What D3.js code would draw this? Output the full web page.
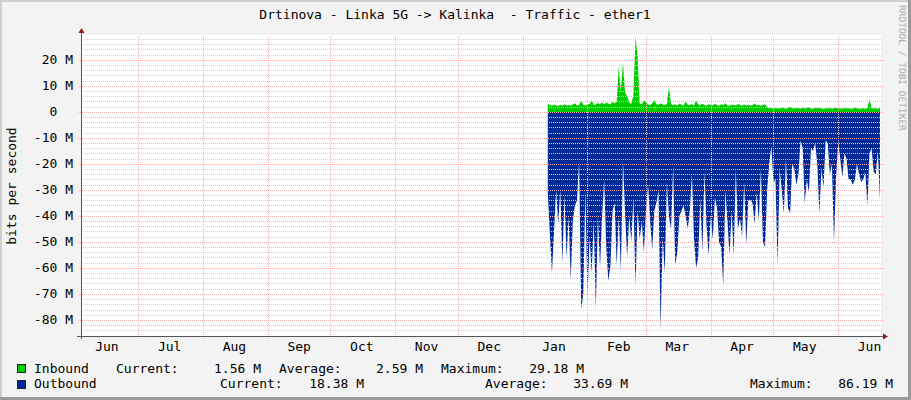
<!DOCTYPE html>
<html><head><meta charset="utf-8">
<script src="https://cdn.jsdelivr.net/npm/d3@7"></script>
<style>
body{margin:0;background:#f3f3f3}
svg{display:block}
text{font-family:"DejaVu Sans Mono",monospace;fill:#000;white-space:pre}
</style>
</head><body><svg id="c" width="911" height="400"></svg>
<script>
// ---------- data ----------
const title = "Drtinova - Linka 5G -> Kalinka  - Traffic - ether1";
const yAxisTitle = "bits per second";
const watermark = "RRDTOOL / TOBI OETIKER";
const seriesNames = ["Inbound", "Outbound"];
const seriesColors = ["#00cc00", "#002a97"];
const firstDay = "2023-01-13";   // first daily sample
// Inbound, Mbit/s, one value per day
const inbound = [
 3.2,2.6,2.4,2.8,2.5,2.3,2.7,2.4,2.9,2.5,
 2.6,2.4,2.8,3.3,2.5,2.6,4.3,2.7,2.5,2.9,
 3.0,4.6,2.6,2.8,3.4,3.0,3.6,2.9,3.5,3.2,
 2.8,3.9,3.2,4.0,17.5,8.0,19.0,7.5,6.0,3.5,
 3.0,6.5,29.18,21.0,3.2,3.0,4.5,3.8,2.8,2.6,
 3.2,4.6,2.9,2.7,3.3,2.8,2.6,3.0,9.5,3.0,
 2.6,2.9,2.5,3.2,2.7,2.4,4.0,2.7,2.6,3.0,
 2.5,4.4,2.8,2.6,3.1,2.6,2.4,2.9,2.6,2.5,
 3.1,2.6,2.4,2.9,2.6,3.3,2.5,2.4,2.8,2.6,
 2.5,3.0,2.6,2.4,2.8,2.5,2.7,2.4,2.6,3.2,
 2.5,2.7,2.4,2.6,2.9,1.8,1.4,1.6,1.2,1.5,
 1.4,1.3,1.7,1.4,1.2,1.6,2.0,1.4,1.3,1.5,
 1.4,1.2,1.6,1.3,1.5,1.7,1.3,1.2,1.5,1.4,
 1.6,1.3,1.2,1.4,1.3,1.5,1.2,1.4,1.6,1.3,
 1.4,1.2,1.5,1.3,1.4,1.2,1.3,1.5,1.4,1.2,
 1.3,1.4,1.2,1.5,4.9,1.6,1.3,1.4,1.2,1.56
];
// Outbound, Mbit/s (drawn below zero), one value per day
const outbound = [
 31,47,62,46,30,43,30,58,32,56,
 40,65,42,36,34,19,76,70,30,72,
 48,62,42,76,40,60,40,26,52,65,
 59,38,35,59,40,61,19,39,56,40,
 50,33,67,38,49,42,54,38,28,42,
 53,38,35,30,84,48,62,27,40,45,
 21,59,54,40,38,36,40,45,38,24,
 49,60,56,33,54,23,44,55,40,49,
 33,37,50,52,67,30,42,55,38,55,
 22,45,41,48,27,51,34,34,35,43,
 31,42,22,50,52,30,20,13,27,26,
 59,22,30,39,18,37,39,20,22,28,
 24,11,14,35,26,31,14,15,12,20,
 39,22,29,11,12,24,20,50,25,12,
 18,25,16,18,26,26,28,26,20,24,
 27,26,23,36,16,14,23,24,15,34
];
const monthLabels = ["Jun","Jul","Aug","Sep","Oct","Nov","Dec","Jan","Feb","Mar","Apr","May","Jun"];
const yMajorTicks = [20,10,0,-10,-20,-30,-40,-50,-60,-70,-80];
const yDomain = [-86.19, 29.18];
const timeDomain = ["2022-06-03T14:00", "2023-06-21T12:00"];
const legendRows = [
  [["Current:","1.56 M"],["Average:","2.59 M"],["Maximum:","29.18 M"]],
  [["Current:","18.38 M"],["Average:","33.69 M"],["Maximum:","86.19 M"]]
];

// ---------- layout ----------
const L = 81, R = 881, T = 36, B = 336;
const svg = d3.select("#c");
const parseT = d3.timeParse("%Y-%m-%dT%H:%M");
const x = d3.scaleTime().domain(timeDomain.map(parseT)).range([L, R]);
const y = d3.scaleLinear().domain(yDomain).range([B, T]);
const day0 = d3.timeParse("%Y-%m-%d")(firstDay);
const dates = inbound.map((_, i) => d3.timeDay.offset(day0, i));

// background and frame
svg.append("rect").attr("width",911).attr("height",400).attr("fill","#f3f3f3");
svg.append("rect").attr("x",0).attr("y",0).attr("width",911).attr("height",2).attr("fill","#cfcfcf");
svg.append("rect").attr("x",0).attr("y",0).attr("width",2).attr("height",400).attr("fill","#cfcfcf");
svg.append("rect").attr("x",0).attr("y",397).attr("width",911).attr("height",3).attr("fill","#9a9a9a");
svg.append("rect").attr("x",908).attr("y",0).attr("width",3).attr("height",400).attr("fill","#9a9a9a");
svg.append("rect").attr("x",L).attr("y",T-1).attr("width",R-L).attr("height",B-T+1).attr("fill","#fff");

// areas
svg.append("clipPath").attr("id","pc").append("rect")
  .attr("x",L).attr("y",T-1).attr("width",R-L).attr("height",B-T+1);
const g = svg.append("g").attr("clip-path","url(#pc)");
const areaOut = d3.area().x((d,i)=>x(dates[i])).y0(y(0)).y1(d=>y(-d));
const areaIn = d3.area().x((d,i)=>x(dates[i])).y0(y(0)).y1(d=>y(d));
g.append("path").datum(outbound).attr("d",areaOut).attr("fill",seriesColors[1]);
g.append("path").datum(inbound).attr("d",areaIn).attr("fill",seriesColors[0]);

// grid (drawn over the data, like rrdtool)
const grid = svg.append("g").attr("shape-rendering","crispEdges");
const minor = d3.range(-86, 29, 2).filter(v => v % 10 !== 0);
grid.selectAll(".mn").data(minor).join("line")
  .attr("x1",L).attr("x2",R+1)
  .attr("y1",d=>Math.round(y(d))+0.5).attr("y2",d=>Math.round(y(d))+0.5)
  .attr("stroke","#d2d2d2").attr("stroke-dasharray","1,1");
grid.selectAll(".mj").data(yMajorTicks).join("line")
  .attr("x1",L-3).attr("x2",R+2)
  .attr("y1",d=>Math.round(y(d))+0.5).attr("y2",d=>Math.round(y(d))+0.5)
  .attr("stroke","#ffadad").attr("stroke-dasharray","1,1");
const monthStarts = d3.timeMonth.range(d3.timeMonth.ceil(x.domain()[0]), x.domain()[1]);
grid.selectAll(".mv").data(monthStarts).join("line")
  .attr("x1",d=>Math.round(x(d))+0.5).attr("x2",d=>Math.round(x(d))+0.5)
  .attr("y1",T).attr("y2",B+3)
  .attr("stroke","#ffadad").attr("stroke-dasharray","1,1");

// axes
const ax = svg.append("g").attr("shape-rendering","crispEdges");
ax.append("line").attr("x1",L+0.5).attr("x2",L+0.5).attr("y1",B+3).attr("y2",T-5).attr("stroke","#555");
ax.append("line").attr("x1",L-4).attr("x2",R+4).attr("y1",B+0.5).attr("y2",B+0.5).attr("stroke","#555");
svg.append("path").attr("d",`M${L-2.5},${T-3} L${L+3.5},${T-3} L${L+0.5},${T-8} Z`).attr("fill","#8b1a1a");
svg.append("path").attr("d",`M${R+2},${B-2.5} L${R+2},${B+3.5} L${R+7},${B+0.5} Z`).attr("fill","#8b1a1a");

// y labels
svg.selectAll(".yl").data(yMajorTicks).join("text")
  .attr("x",d=> d===0 ? 73-2*7.83 : 73).attr("y",d=>y(d)+4.5)
  .attr("text-anchor","end").attr("font-size",13)
  .text(d=> d===0 ? "0" : d+" M");

// month labels
const labelMonths = d3.timeMonth.range(d3.timeMonth.floor(x.domain()[0]), x.domain()[1]);
svg.selectAll(".xl").data(labelMonths).join("text")
  .attr("x",d=>x(d3.timeDay.offset(d,15))).attr("y",351)
  .attr("text-anchor","middle").attr("font-size",13)
  .text((d,i)=>monthLabels[i]);

// title, axis title, watermark
svg.append("text").attr("x",455).attr("y",19).attr("text-anchor","middle").attr("font-size",13).text(title);
svg.append("text").attr("transform","translate(16,186) rotate(-90)").attr("text-anchor","middle")
  .attr("font-size",13).text(yAxisTitle);
svg.append("text").attr("transform","translate(899,5) rotate(90)").attr("font-size",9.5)
  .style("fill","#a8a8a8").text(watermark);

// legend
const rowY = [372.5, 388];
const colX = [
  [[116,261],[279,423],[441,584]],
  [[220,364],[485,628],[750,893]]
];
seriesNames.forEach((name,r)=>{
  svg.append("rect").attr("x",17.5).attr("y",rowY[r]-8).attr("width",8).attr("height",8)
    .attr("fill",seriesColors[r]).attr("stroke","#222").attr("shape-rendering","crispEdges");
  svg.append("text").attr("x",34).attr("y",rowY[r]).attr("font-size",13).text(name);
  legendRows[r].forEach((p,c)=>{
    svg.append("text").attr("x",colX[r][c][0]).attr("y",rowY[r]).attr("font-size",13).text(p[0]);
    svg.append("text").attr("x",colX[r][c][1]).attr("y",rowY[r]).attr("text-anchor","end").attr("font-size",13).text(p[1]);
  });
});
</script></body></html>
